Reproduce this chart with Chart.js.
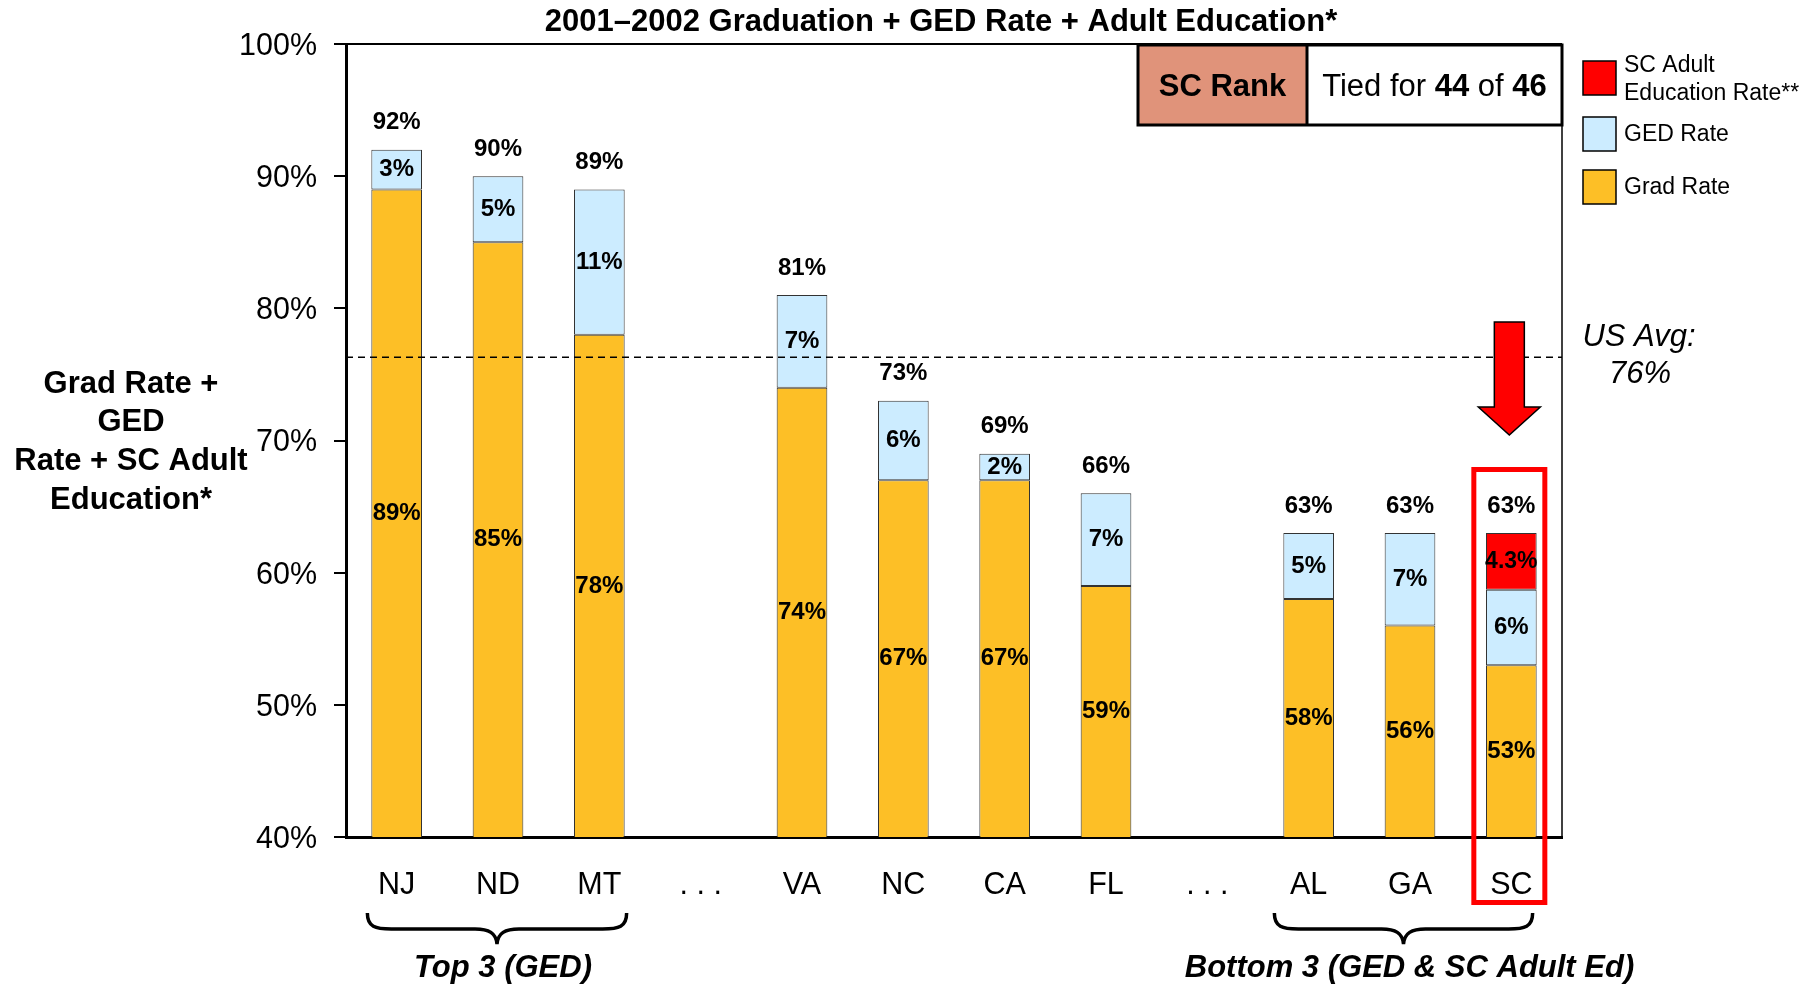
<!DOCTYPE html>
<html><head><meta charset="utf-8">
<script src="https://cdn.jsdelivr.net/npm/chart.js@4/dist/chart.umd.min.js"></script>
<style>html,body{margin:0;padding:0;background:#fff;overflow:hidden;}#wrap{width:1818px;height:984px;position:relative;}</style>
</head><body><div id="wrap"><canvas id="c" width="1818" height="984"></canvas></div>
<script>
// ---- data ----
const categories = ['NJ', 'ND', 'MT', '. . .', 'VA', 'NC', 'CA', 'FL', '. . .', 'AL', 'GA', 'SC'];
const gradRate    = [89, 85, 78, null, 74, 67, 67, 59, null, 58, 56, 53];
const gedRate     = [3, 5, 11, null, 7, 6, 2, 7, null, 5, 7, 5.7];
const scAdultRate = [null, null, null, null, null, null, null, null, null, null, null, 4.3];
const yTickValues = [40, 50, 60, 70, 80, 90, 100];
const usAvg = 76.3;
const usAvgLabel = ['US Avg:', '76%'];
const chartTitle = '2001\u20132002 Graduation + GED Rate + Adult Education*';
const yAxisTitle = ['Grad Rate +', 'GED', 'Rate + SC Adult', 'Education*'];
const groupTop = {label: 'Top 3 (GED)', from: 0, to: 2};
const groupBottom = {label: 'Bottom 3 (GED & SC Adult Ed)', from: 9, to: 11};
const highlightIndex = 11;
const rankText = {head: 'SC Rank', parts: [['Tied for ', false], ['44', true], [' of ', false], ['46', true]]};

const FONT = "'Liberation Sans', Arial, Helvetica, sans-serif";
const C_GRAD = '#FDBF26', C_GED = '#CCECFF', C_ADULT = '#FF0000';

const fmtInt = v => Math.round(v) + '%';
const fmtOne = v => v.toFixed(1) + '%';

const labelPlugin = {
  id: 'segLabels',
  afterDatasetsDraw(chart) {
    const ctx = chart.ctx, ca = chart.chartArea;
    ctx.save();
    ctx.fillStyle = '#000';
    ctx.textAlign = 'center';
    ctx.textBaseline = 'middle';
    chart.data.datasets.forEach((ds, di) => {
      const meta = chart.getDatasetMeta(di);
      meta.data.forEach((el, i) => {
        const v = ds.data[i];
        if (v == null) return;
        const base = Math.min(el.base, ca.bottom);
        const yc = (el.y + base) / 2;
        ctx.font = 'bold ' + (di === 2 ? 23 : 24) + 'px ' + FONT;
        ctx.fillText(ds.fmt(v), el.x, yc);
      });
    });
    // totals
    const y = chart.scales.y;
    ctx.font = 'bold 24px ' + FONT;
    categories.forEach((c, i) => {
      if (gradRate[i] == null) return;
      const tot = (gradRate[i] || 0) + (gedRate[i] || 0) + (scAdultRate[i] || 0);
      const el = chart.getDatasetMeta(0).data[i];
      ctx.fillText(fmtInt(tot), el.x, y.getPixelForValue(tot) - 27);
    });
    ctx.restore();
  }
};

function drawBrace(ctx, x0, x1, yTop, yMid, yTip) {
  const xm = (x0 + x1) / 2;
  ctx.beginPath();
  ctx.moveTo(x0, yTop);
  ctx.bezierCurveTo(x0, yMid - 2, x0 + 8, yMid, x0 + 24, yMid);
  ctx.lineTo(xm - 22, yMid);
  ctx.bezierCurveTo(xm - 8, yMid, xm - 1, yMid + 4, xm, yTip);
  ctx.bezierCurveTo(xm + 1, yMid + 4, xm + 8, yMid, xm + 22, yMid);
  ctx.lineTo(x1 - 24, yMid);
  ctx.bezierCurveTo(x1 - 8, yMid, x1, yMid - 2, x1, yTop);
  ctx.stroke();
}

const annoPlugin = {
  id: 'anno',
  afterDatasetsDraw(chart) {
    const ctx = chart.ctx, ca = chart.chartArea, xs = chart.scales.x, ys = chart.scales.y;
    ctx.save();
    // top and right border
    ctx.strokeStyle = '#000';
    ctx.lineWidth = 2;
    ctx.beginPath();
    ctx.moveTo(ca.left, ca.top); ctx.lineTo(ca.right, ca.top);
    ctx.stroke();
    ctx.lineWidth = 1.5;
    ctx.beginPath();
    ctx.moveTo(ca.right, ca.top); ctx.lineTo(ca.right, ca.bottom);
    ctx.stroke();
    // US average dashed line
    const ya = ys.getPixelForValue(usAvg);
    ctx.lineWidth = 1.5;
    ctx.setLineDash([7, 5]);
    ctx.beginPath();
    ctx.moveTo(ca.left, ya); ctx.lineTo(ca.right, ya);
    ctx.stroke();
    ctx.setLineDash([]);
    // US avg label
    ctx.fillStyle = '#000';
    ctx.textAlign = 'center';
    ctx.textBaseline = 'middle';
    ctx.font = 'italic 31px ' + FONT;
    ctx.fillText(usAvgLabel[0], ca.right + 77, ya - 20);
    ctx.fillText(usAvgLabel[1], ca.right + 78, ya + 17);

    // highlight rectangle + arrow at SC
    const cx = xs.getPixelForValue(highlightIndex) - 2;
    ctx.strokeStyle = '#FF0000';
    ctx.lineWidth = 5;
    ctx.strokeRect(cx - 35.5, 469.5, 71, 433);
    ctx.beginPath();
    ctx.moveTo(cx - 15, 322); ctx.lineTo(cx + 15, 322); ctx.lineTo(cx + 15, 407);
    ctx.lineTo(cx + 31, 407); ctx.lineTo(cx, 435); ctx.lineTo(cx - 31, 407);
    ctx.lineTo(cx - 15, 407); ctx.closePath();
    ctx.fillStyle = '#FF0000';
    ctx.fill();
    ctx.strokeStyle = '#000';
    ctx.lineWidth = 1.5;
    ctx.stroke();

    // SC Rank box
    const bx = 1138, by = 45, bw = 424, bh = 80, split = 1307;
    ctx.fillStyle = '#E0937A';
    ctx.fillRect(bx, by, split - bx, bh);
    ctx.fillStyle = '#fff';
    ctx.fillRect(split, by, bx + bw - split, bh);
    ctx.strokeStyle = '#000';
    ctx.lineWidth = 3;
    ctx.strokeRect(bx, by, bw, bh);
    ctx.beginPath(); ctx.moveTo(split, by); ctx.lineTo(split, by + bh); ctx.stroke();
    ctx.fillStyle = '#000';
    ctx.textAlign = 'center';
    ctx.font = 'bold 31px ' + FONT;
    ctx.fillText(rankText.head, (bx + split) / 2, by + bh / 2 + 2);
    let tw = 0;
    rankText.parts.forEach(p => { ctx.font = (p[1] ? 'bold ' : '') + '31px ' + FONT; tw += ctx.measureText(p[0]).width; });
    let tx = (split + bx + bw) / 2 - tw / 2;
    ctx.textAlign = 'left';
    rankText.parts.forEach(p => { ctx.font = (p[1] ? 'bold ' : '') + '31px ' + FONT; ctx.fillText(p[0], tx, by + bh / 2 + 2); tx += ctx.measureText(p[0]).width; });

    // legend (reverse dataset order)
    const legendY = [61, 117, 170];
    const dsRev = chart.data.datasets.slice().reverse();
    ctx.font = '23px ' + FONT;
    dsRev.forEach((ds, k) => {
      const sy = legendY[k];
      ctx.fillStyle = ds.backgroundColor;
      ctx.fillRect(1583, sy, 33, 34);
      ctx.strokeStyle = '#000';
      ctx.lineWidth = 1.5;
      ctx.strokeRect(1583, sy, 33, 34);
      ctx.fillStyle = '#000';
      ctx.textAlign = 'left';
      const lines = ds.legendLines;
      if (lines.length === 2) {
        ctx.fillText(lines[0], 1624, sy + 5);
        ctx.fillText(lines[1], 1624, sy + 33);
      } else {
        ctx.fillText(lines[0], 1624, sy + 18);
      }
    });

    // chart title
    ctx.textAlign = 'center';
    ctx.font = 'bold 31px ' + FONT;
    ctx.fillText(chartTitle, 941, 22);

    // y-axis title
    ctx.font = 'bold 31px ' + FONT;
    yAxisTitle.forEach((t, k) => ctx.fillText(t, 131, 384 + k * 38.7));

    // braces
    ctx.strokeStyle = '#000';
    ctx.lineWidth = 3.5;
    [groupTop, groupBottom].forEach((g, k) => {
      const half = 25.3;
      const x0 = xs.getPixelForValue(g.from) - half + (k === 0 ? -4 : -9);
      const x1 = xs.getPixelForValue(g.to) + half + (k === 0 ? 2 : -4);
      drawBrace(ctx, x0, x1, 913, 929, 944);
      ctx.font = 'italic bold 31px ' + FONT;
      ctx.fillText(g.label, (x0 + x1) / 2 + 6, 968);
    });
    ctx.restore();
  }
};

new Chart(document.getElementById('c'), {
  type: 'bar',
  data: {
    labels: categories,
    datasets: [
      {label: 'Grad Rate', legendLines: ['Grad Rate'], data: gradRate, backgroundColor: C_GRAD, fmt: fmtInt},
      {label: 'GED Rate', legendLines: ['GED Rate'], data: gedRate, backgroundColor: C_GED, fmt: fmtInt},
      {label: 'SC Adult Education Rate**', legendLines: ['SC Adult', 'Education Rate**'], data: scAdultRate, backgroundColor: C_ADULT, fmt: fmtOne}
    ].map(d => Object.assign(d, {borderColor: '#333', borderWidth: 1, borderSkipped: false, barPercentage: 0.5, categoryPercentage: 1.0}))
  },
  options: {
    responsive: false,
    animation: false,
    devicePixelRatio: 1,
    layout: {padding: {top: 44, right: 256, bottom: 0, left: 0}},
    plugins: {legend: {display: false}, tooltip: {enabled: false}, title: {display: false}},
    scales: {
      x: {
        stacked: true,
        grid: {display: false},
        border: {display: true, width: 3, color: '#000'},
        ticks: {color: '#000', font: {family: FONT, size: 30.5}, padding: 22, maxRotation: 0, autoSkip: false},
        afterFit: s => { s.height = 147; }
      },
      y: {
        stacked: true,
        min: 40, max: 100,
        afterBuildTicks: s => { s.ticks = yTickValues.map(v => ({value: v})); },
        grid: {drawOnChartArea: false, drawTicks: true, tickLength: 12, color: '#000', lineWidth: 2},
        border: {display: true, width: 3, color: '#000'},
        ticks: {color: '#000', font: {family: FONT, size: 30.5}, padding: 17, labelOffset: 2.5, callback: v => v + '%'},
        afterFit: s => { s.width = 346; }
      }
    }
  },
  plugins: [labelPlugin, annoPlugin]
});
</script>
</body></html>
